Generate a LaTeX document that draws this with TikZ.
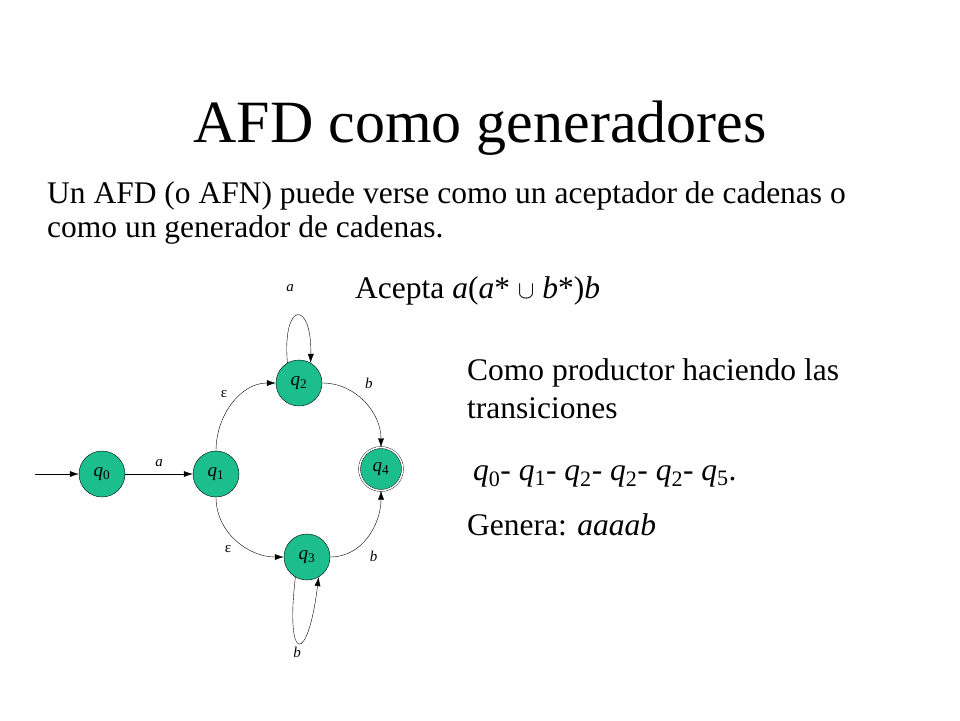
\documentclass[tikz,border=0pt]{standalone}
\usepackage{fontspec}
\setmainfont{Liberation Serif}
\usetikzlibrary{arrows.meta}
\definecolor{stfill}{RGB}{28,190,142}
\newcommand{\qs}[1]{\textit{q}\textsubscript{#1}}
\tikzset{
 st/.style={circle,draw=black,fill=stfill,minimum size=46pt,inner sep=0pt,font=\fontsize{19}{21}\selectfont},
 acc/.style={st,double=white,double distance=1.5pt,minimum size=43pt},
 lab/.style={font=\fontsize{15}{17}\selectfont},
 txt/.style={anchor=base west,inner sep=0pt,font=\fontsize{31.5}{34}\selectfont},
 tr/.style={-{Latex[length=9pt,width=6pt]},thin}
}
\begin{document}
\begin{tikzpicture}[x=1pt,y=-1pt]
\useasboundingbox (0,0) rectangle (960,720);
\node[inner sep=0pt,font=\fontsize{60}{62}\selectfont] (title) at (480,128) {AFD como generadores};
\node[txt] (l1) at (47,203) {Un AFD (o AFN) puede verse como un aceptador de cadenas o};
\node[txt] (l2) at (47,237) {como un generador de cadenas.};
\node[txt] (acc) at (355,298) {Acepta \textit{a}(\textit{a}* $\cup$ \textit{b}*)\textit{b}};
\node[txt] (p1) at (467,380) {Como productor haciendo las};
\node[txt] (p2) at (467,418) {transiciones};
\node[txt] (p3) at (473,480) {\qs{0}- \qs{1}- \qs{2}- \qs{2}- \qs{2}- \qs{5}.};
\node[txt] (p4) at (467,535) {Genera: \textit{aaaab}};
\node[st] (q0) at (102,474) {\qs{0}};
\node[st] (q1) at (216,474) {\qs{1}};
\node[st] (q2) at (299,383) {\qs{2}};
\node[acc] (q4) at (381,469) {\qs{4}};
\node[st] (q3) at (307,557) {\qs{3}};
\coordinate (s) at (35,474);
\draw[tr] (s) -- (q0);
\draw[tr] (q0) -- node[lab,above=4pt]{\textit{a}} (q1);
\draw[tr] (q1.north) to[out=90,in=180] node[lab,pos=0.5,above left=2pt]{ε} (q2.west);
\draw[tr] (q1.south) to[out=-90,in=180] node[lab,pos=0.5,below left=2pt]{ε} (q3.west);
\draw[tr] (q2.east) to[out=0,in=90] node[lab,pos=0.4,above right=4pt]{\textit{b}} (q4.north);
\draw[tr] (q3.east) to[out=0,in=-90] node[lab,pos=0.4,below right=4pt]{\textit{b}} (q4.south);
\draw[tr] (q2.120) .. controls (282,300) and (312,300) .. (q2.60);
\node[lab] (la) at (290,288) {\textit{a}};
\draw[tr] (q3.240) .. controls (285,665) and (308,665) .. (q3.300);
\node[lab] (lb) at (297,652) {\textit{b}};
\end{tikzpicture}
\end{document}
